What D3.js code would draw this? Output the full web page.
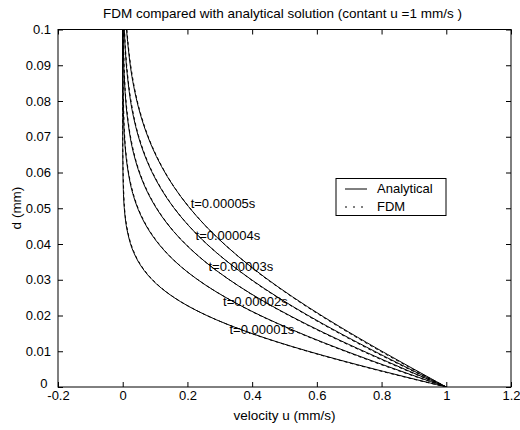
<!DOCTYPE html>
<html><head><meta charset="utf-8">
<script src="https://cdn.jsdelivr.net/npm/d3@7"></script>
<style>body{margin:0;background:#fff}svg{display:block}text{font-family:"Liberation Sans",Arial,sans-serif;fill:#000}</style>
</head><body><svg id="c" width="520" height="430"></svg>
<script>
// ---- data ----
const title = "FDM compared with analytical solution (contant u =1 mm/s )";
const xLabel = "velocity u (mm/s)";
const yLabel = "d (mm)";
const xTicks = [-0.2, 0, 0.2, 0.4, 0.6, 0.8, 1, 1.2];
const yTicks = [0, 0.01, 0.02, 0.03, 0.04, 0.05, 0.06, 0.07, 0.08, 0.09, 0.1];
const seriesNames = ["t=0.00001s", "t=0.00002s", "t=0.00003s", "t=0.00004s", "t=0.00005s"];
const legendNames = ["Analytical", "FDM"];

// Analytical: velocity levels and the depth at which each curve reaches them
const velocityA = [1, 0.9436, 0.8875, 0.8320, 0.7773, 0.6714, 0.5716, 0.4795, 0.3961, 0.3222, 0.2579, 0.2031, 0.1573, 0.1198, 0.0897, 0.0660, 0.0477, 0.0339, 0.0237, 0.0109, 0.0047, 0.0019, 0.0004, 0, 0];
const depthA1 = [0, 0.00126, 0.00251, 0.00377, 0.00502, 0.00753, 0.01004, 0.01255, 0.01506, 0.01757, 0.02008, 0.02259, 0.0251, 0.02761, 0.03012, 0.03263, 0.03514, 0.03765, 0.04016, 0.04518, 0.0502, 0.05522, 0.06275, 0.0753, 0.1004];
const depthA2 = [0, 0.00178, 0.00355, 0.00533, 0.0071, 0.01065, 0.0142, 0.01775, 0.0213, 0.02485, 0.0284, 0.03195, 0.0355, 0.03905, 0.0426, 0.04615, 0.0497, 0.05325, 0.0568, 0.0639, 0.071, 0.0781, 0.08875, 0.1065, 0.142];
const depthA3 = [0, 0.00218, 0.00435, 0.00653, 0.0087, 0.01305, 0.0174, 0.02175, 0.0261, 0.03045, 0.0348, 0.03915, 0.0435, 0.04785, 0.0522, 0.05655, 0.0609, 0.06525, 0.0696, 0.0783, 0.087, 0.0957, 0.10875, 0.1305, 0.174];
const depthA4 = [0, 0.00251, 0.00502, 0.00753, 0.01004, 0.01506, 0.02008, 0.0251, 0.03012, 0.03514, 0.04016, 0.04518, 0.0502, 0.05522, 0.06024, 0.06526, 0.07028, 0.0753, 0.08032, 0.09036, 0.1004, 0.11044, 0.1255, 0.1506, 0.2008];
const depthA5 = [0, 0.00281, 0.00561, 0.00842, 0.01122, 0.01683, 0.02244, 0.02805, 0.03366, 0.03927, 0.04488, 0.05049, 0.0561, 0.06171, 0.06732, 0.07293, 0.07854, 0.08415, 0.08976, 0.10098, 0.1122, 0.12342, 0.14025, 0.1683, 0.2244];

// FDM: slightly different velocities at a coarser set of depths
const velocityF = [1, 0.884, 0.773, 0.668, 0.569, 0.478, 0.395, 0.258, 0.158, 0.091, 0.049, 0.025, 0.012, 0.0055, 0.0008, 0.0001, 0];
const depthF1 = [0, 0.00251, 0.00502, 0.00753, 0.01004, 0.01255, 0.01506, 0.02008, 0.0251, 0.03012, 0.03514, 0.04016, 0.04518, 0.0502, 0.06275, 0.0753, 0.1004];
const depthF2 = [0, 0.00355, 0.0071, 0.01065, 0.0142, 0.01775, 0.0213, 0.0284, 0.0355, 0.0426, 0.0497, 0.0568, 0.0639, 0.071, 0.08875, 0.1065, 0.142];
const depthF3 = [0, 0.00435, 0.0087, 0.01305, 0.0174, 0.02175, 0.0261, 0.0348, 0.0435, 0.0522, 0.0609, 0.0696, 0.0783, 0.087, 0.10875, 0.1305, 0.174];
const depthF4 = [0, 0.00502, 0.01004, 0.01506, 0.02008, 0.0251, 0.03012, 0.04016, 0.0502, 0.06024, 0.07028, 0.08032, 0.09036, 0.1004, 0.1255, 0.1506, 0.2008];
const depthF5 = [0, 0.00561, 0.01122, 0.01683, 0.02244, 0.02805, 0.03366, 0.04488, 0.0561, 0.06732, 0.07854, 0.08976, 0.10098, 0.1122, 0.14025, 0.1683, 0.2244];

// label anchor points (velocity, depth) for the time labels
const labelU = [0.33, 0.31, 0.265, 0.225, 0.21];
const labelD = [0.0147, 0.0226, 0.0325, 0.0410, 0.0502];

// ---- drawing ----
const svg = d3.select("#c");
const L = 58, R = 511, T = 29.5, B = 387;
const x = d3.scaleLinear().domain([-0.2, 1.2]).range([L, R]);
const y = d3.scaleLinear().domain([0, 0.1]).range([B, T]);
const fmt = d => String(d).replace("\u2212", "-");

svg.append("defs").append("clipPath").attr("id", "clip")
  .append("rect").attr("x", L).attr("y", T).attr("width", R - L).attr("height", B - T);

const line = d3.line().x(d => x(d[0])).y(d => y(d[1])).curve(d3.curveCatmullRom);
const depthsA = [depthA1, depthA2, depthA3, depthA4, depthA5];
const depthsF = [depthF1, depthF2, depthF3, depthF4, depthF5];
const g = svg.append("g").attr("clip-path", "url(#clip)");
depthsA.forEach(ds => {
  g.append("path").datum(velocityA.map((u, i) => [u, ds[i]]))
    .attr("d", line).attr("fill", "none").attr("stroke", "#000").attr("stroke-width", 1);
});
depthsF.forEach(ds => {
  g.append("path").datum(velocityF.map((u, i) => [u, ds[i]]))
    .attr("d", line).attr("fill", "none").attr("stroke", "#000").attr("stroke-width", 1)
    .attr("stroke-dasharray", "3,3");
});

// frame and axes (ticks inward, on all four sides)
const ax = (gen, tr) => svg.append("g").attr("transform", tr).call(gen);
const xb = ax(d3.axisBottom(x).tickValues(xTicks).tickSize(-5).tickPadding(4).tickFormat(fmt), `translate(0,${B})`);
const xt = ax(d3.axisTop(x).tickValues(xTicks).tickSize(-5).tickFormat(""), `translate(0,${T})`);
const yl = ax(d3.axisLeft(y).tickValues(yTicks).tickSize(-5).tickPadding(7).tickFormat(fmt), `translate(${L},0)`);
const yr = ax(d3.axisRight(y).tickValues(yTicks).tickSize(-5).tickFormat(""), `translate(${R},0)`);
[xb, xt, yl, yr].forEach(a => {
  a.select(".domain").remove();
  a.selectAll("line").attr("stroke", "#000");
  a.selectAll("text").style("font-size", "13px").attr("fill", "#000");
});
// nudge the bottom "0" of the d axis so it clears the first x label
yl.selectAll(".tick").filter(d => d === 0).select("text").attr("x", -10.5).attr("dy", "0.05em");
svg.append("rect").attr("x", L).attr("y", T).attr("width", R - L).attr("height", B - T)
  .attr("fill", "none").attr("stroke", "#000").attr("stroke-width", 1);

// titles
svg.append("text").attr("x", (L + R) / 2 - 2).attr("y", 18).attr("text-anchor", "middle")
  .style("font-size", "13.5px").text(title);
svg.append("text").attr("x", (L + R) / 2).attr("y", 420).attr("text-anchor", "middle")
  .style("font-size", "13.5px").text(xLabel);
svg.append("text").attr("transform", "translate(21,208) rotate(-90)").attr("text-anchor", "middle")
  .style("font-size", "13.5px").text(yLabel);

// time labels
seriesNames.forEach((s, i) => {
  svg.append("text").attr("x", x(labelU[i])).attr("y", y(labelD[i]))
    .style("font-size", "13px").text(s);
});

// legend
const lg = svg.append("g");
lg.append("rect").attr("x", 336).attr("y", 178.5).attr("width", 110).attr("height", 37)
  .attr("fill", "#fff").attr("stroke", "#000").attr("stroke-width", 1);
lg.append("line").attr("x1", 345).attr("x2", 367).attr("y1", 189).attr("y2", 189).attr("stroke", "#000");
lg.append("line").attr("x1", 345).attr("x2", 367).attr("y1", 207).attr("y2", 207).attr("stroke", "#000")
  .attr("stroke-dasharray", "2,6");
lg.append("text").attr("x", 377).attr("y", 193).style("font-size", "13px").text(legendNames[0]);
lg.append("text").attr("x", 377).attr("y", 211).style("font-size", "13px").text(legendNames[1]);
</script></body></html>
